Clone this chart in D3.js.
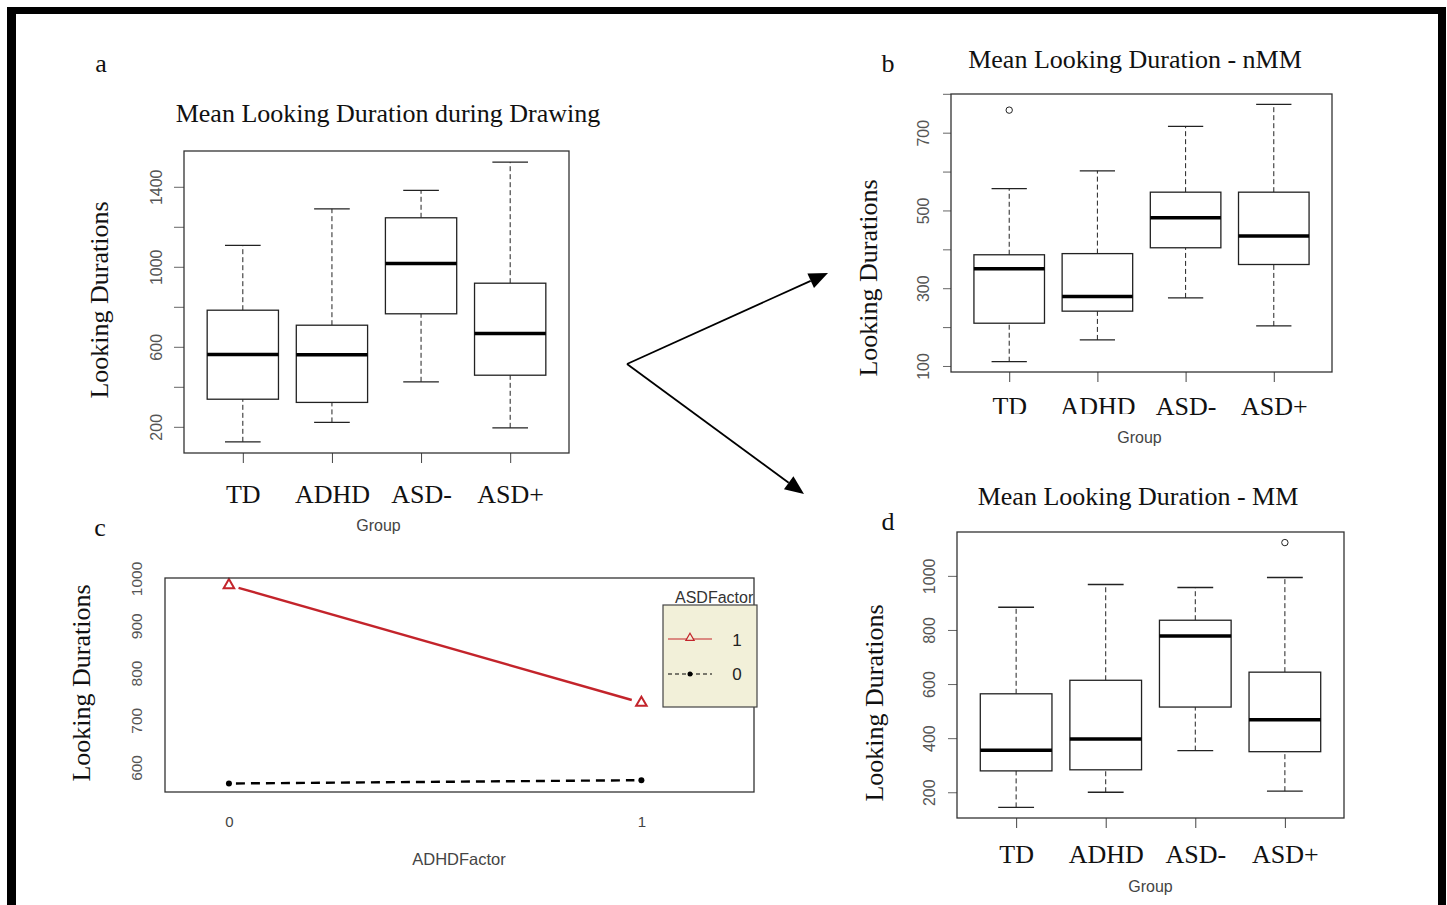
<!DOCTYPE html>
<html>
<head>
<meta charset="utf-8">
<script src="https://cdn.jsdelivr.net/npm/d3@7"></script>
<style>
  body { margin: 0; background: #fff; }
  text { font-family: "Liberation Sans", Arial, sans-serif; }
  .serif { font-family: "Liberation Serif", "Times New Roman", serif; }
</style>
</head>
<body>
<svg id="fig"></svg>
<script>
var groups = ["TD", "ADHD", "ASD-", "ASD+"];

// low whisker, q1, median, q3, high whisker (one row per group)
var drawingStats = [[125, 338, 562, 783, 1107], [222, 322, 560, 708, 1290], [425, 765, 1017, 1245, 1382], [195, 458, 667, 918, 1523]];
var nmmStats = [[111, 210, 350, 386, 556], [167, 241, 279, 389, 602], [275, 404, 481, 547, 716], [203, 361, 434, 547, 773]];
var mmStats = [[144, 279, 355, 564, 884], [200, 283, 397, 614, 968], [354, 515, 778, 836, 957], [204, 350, 468, 644, 994]];
// [group index, value]
var nmmOutliers = [[0, 758]];
var mmOutliers = [[3, 1123]];

var drawingTicks = [200, 400, 600, 800, 1000, 1200, 1400];
var drawingLabels = [200, 600, 1000, 1400];
var nmmTicks = [100, 200, 300, 400, 500, 600, 700, 800];
var nmmLabels = [100, 300, 500, 700];
var mmTicks = [200, 400, 600, 800, 1000];
var mmLabels = [200, 400, 600, 800, 1000];

// interaction plot (panel c)
var adhdLevels = [0, 1];
var asdOneMeans = [986, 737];
var asdZeroMeans = [566, 573];
var cTicks = [600, 700, 800, 900, 1000];

var W = 1447, H = 905;
var svg = d3.select("#fig").attr("width", W).attr("height", H);
svg.append("rect").attr("width", W).attr("height", H).attr("fill", "#fff");

// outer frame
svg.append("rect").attr("x", 7).attr("y", 7).attr("width", 1432).attr("height", 7).attr("fill", "#000");
svg.append("rect").attr("x", 7).attr("y", 7).attr("width", 9).attr("height", H).attr("fill", "#000");
svg.append("rect").attr("x", 1438).attr("y", 7).attr("width", 8).attr("height", H).attr("fill", "#000");

function serifText(x, y, size, txt, rot) {
  var t = svg.append("text").attr("class", "serif")
    .attr("text-anchor", "middle")
    .style("font-size", size + "px")
    .attr("fill", "#111")
    .text(txt);
  if (rot) t.attr("transform", "translate(" + x + "," + y + ")rotate(-90)");
  else t.attr("x", x).attr("y", y);
  return t;
}

function boxPanel(p) {
  var g = svg.append("g");
  var all = d3.merge(p.stats).concat(p.outliers.map(function (o) { return o[1]; }));
  var ext = d3.extent(all), pad = (ext[1] - ext[0]) * 0.04;
  var y = d3.scaleLinear().domain([ext[0] - pad, ext[1] + pad]).range([p.bottom, p.top]);
  var x = d3.scaleLinear().domain([0.34, 4.66]).range([p.left, p.right]);
  var half = (x(1) - x(0)) * 0.4;

  // y axis
  var ya = g.append("g").attr("transform", "translate(" + p.left + ",0)")
    .call(d3.axisLeft(y).tickValues(p.ticks).tickSize(p.tickLen)
      .tickFormat(function (d) { return p.labels.indexOf(d) >= 0 ? d : ""; }));
  ya.select(".domain").remove();
  ya.selectAll("line").attr("stroke", "#666");
  ya.selectAll("text")
    .attr("transform", "rotate(-90)")
    .attr("x", 0).attr("y", -22).attr("dy", 0)
    .attr("text-anchor", "middle")
    .attr("fill", "#555")
    .style("font-size", "16px");

  // x axis
  var xa = g.append("g").attr("transform", "translate(0," + p.bottom + ")")
    .call(d3.axisBottom(x).tickValues([1, 2, 3, 4]).tickSize(10)
      .tickFormat(function (i) { return groups[i - 1]; }));
  xa.select(".domain").remove();
  xa.selectAll("line").attr("stroke", "#444");
  xa.selectAll("text")
    .attr("class", "serif")
    .attr("y", p.labelY - p.bottom).attr("dy", 0)
    .attr("fill", "#111")
    .style("font-size", "26px");
  if (p.clipY) {
    // the first two labels of panel b are cut at the bottom in the source figure
    var cid = "clip" + Math.round(p.left);
    svg.append("clipPath").attr("id", cid).append("rect")
      .attr("x", -200).attr("y", -200).attr("width", 400).attr("height", 200 + p.clipY - p.bottom);
    xa.selectAll("text").filter(function (i) { return i <= 2; })
      .attr("clip-path", "url(#" + cid + ")");
  }

  var boxes = g.selectAll(".bx").data(p.stats).enter().append("g");
  // dashed whiskers
  boxes.append("line")
    .attr("x1", function (d, i) { return x(i + 1); }).attr("x2", function (d, i) { return x(i + 1); })
    .attr("y1", function (d) { return y(d[0]); }).attr("y2", function (d) { return y(d[1]); })
    .attr("stroke", "#222").attr("stroke-dasharray", "5,3");
  boxes.append("line")
    .attr("x1", function (d, i) { return x(i + 1); }).attr("x2", function (d, i) { return x(i + 1); })
    .attr("y1", function (d) { return y(d[3]); }).attr("y2", function (d) { return y(d[4]); })
    .attr("stroke", "#222").attr("stroke-dasharray", "5,3");
  // staples
  [0, 4].forEach(function (k) {
    boxes.append("line")
      .attr("x1", function (d, i) { return x(i + 1) - half / 2; })
      .attr("x2", function (d, i) { return x(i + 1) + half / 2; })
      .attr("y1", function (d) { return y(d[k]); }).attr("y2", function (d) { return y(d[k]); })
      .attr("stroke", "#222").attr("stroke-width", 1.3);
  });
  boxes.append("rect")
    .attr("x", function (d, i) { return x(i + 1) - half; })
    .attr("width", half * 2)
    .attr("y", function (d) { return y(d[3]); })
    .attr("height", function (d) { return y(d[1]) - y(d[3]); })
    .attr("fill", "#fff").attr("stroke", "#222").attr("stroke-width", 1.3);
  boxes.append("line")
    .attr("x1", function (d, i) { return x(i + 1) - half; })
    .attr("x2", function (d, i) { return x(i + 1) + half; })
    .attr("y1", function (d) { return y(d[2]); }).attr("y2", function (d) { return y(d[2]); })
    .attr("stroke", "#000").attr("stroke-width", 3.5);

  g.selectAll(".out").data(p.outliers).enter().append("circle")
    .attr("cx", function (d) { return x(d[0] + 1); })
    .attr("cy", function (d) { return y(d[1]); })
    .attr("r", 3.2).attr("fill", "none").attr("stroke", "#222");

  g.append("rect")
    .attr("x", p.left).attr("y", p.top)
    .attr("width", p.right - p.left).attr("height", p.bottom - p.top)
    .attr("fill", "none").attr("stroke", "#333").attr("stroke-width", 1.3);

  serifText(p.titleX, p.titleY, 26, p.title);
  serifText(p.ylabX, p.ylabY, 26, "Looking Durations", true);
  svg.append("text").attr("x", (p.left + p.right) / 2 + p.groupDx).attr("y", p.groupY)
    .attr("text-anchor", "middle").attr("fill", "#444")
    .style("font-size", "16px").text("Group");
}

// panel a
boxPanel({
  stats: drawingStats, outliers: [], ticks: drawingTicks, labels: drawingLabels, tickLen: 10,
  left: 184, right: 569, top: 151, bottom: 453, labelY: 503,
  title: "Mean Looking Duration during Drawing", titleX: 388, titleY: 122,
  ylabX: 108, ylabY: 300, groupY: 531, groupDx: 2
});
// panel b
boxPanel({
  stats: nmmStats, outliers: nmmOutliers, ticks: nmmTicks, labels: nmmLabels, tickLen: 8,
  left: 951, right: 1332, top: 94, bottom: 372, labelY: 415, clipY: 414,
  title: "Mean Looking Duration - nMM", titleX: 1135, titleY: 68,
  ylabX: 877, ylabY: 278, groupY: 443, groupDx: -2
});
// panel d
boxPanel({
  stats: mmStats, outliers: mmOutliers, ticks: mmTicks, labels: mmLabels, tickLen: 9,
  left: 957, right: 1344, top: 532, bottom: 818, labelY: 863,
  title: "Mean Looking Duration - MM", titleX: 1138, titleY: 505,
  ylabX: 883, ylabY: 703, groupY: 892, groupDx: 0
});

// panel letters
serifText(101, 72, 26, "a");
serifText(888, 72, 26, "b");
serifText(100, 536, 26, "c");
serifText(888, 530, 26, "d");

// arrows
function arrow(x0, y0, x1, y1) {
  var a = Math.atan2(y1 - y0, x1 - x0), L = 19, w = 8;
  var bx = x1 - L * Math.cos(a), by = y1 - L * Math.sin(a);
  svg.append("line").attr("x1", x0).attr("y1", y0).attr("x2", bx).attr("y2", by)
    .attr("stroke", "#000").attr("stroke-width", 1.8);
  svg.append("path")
    .attr("d", "M" + x1 + "," + y1 +
      "L" + (bx + w * Math.sin(a)) + "," + (by - w * Math.cos(a)) +
      "L" + (bx - w * Math.sin(a)) + "," + (by + w * Math.cos(a)) + "Z")
    .attr("fill", "#000");
}
arrow(627, 364, 828, 273);
arrow(627, 364, 804, 494);

// panel c: interaction plot
var cl = 165, cr = 754, ct = 578, cb = 792;
var cx = d3.scaleLinear().domain([-0.155, 1.273]).range([cl, cr]);
var cy = d3.scaleLinear().domain([548, 1001]).range([cb, ct]);
var red = "#c3242b";
var gc = svg.append("g");

var cya = gc.append("g").attr("transform", "translate(" + cl + ",0)")
  .call(d3.axisLeft(cy).tickValues(cTicks).tickSize(0).tickFormat(d3.format("d")));
cya.select(".domain").remove();
cya.selectAll("text")
  .attr("transform", "rotate(-90)")
  .attr("x", 0).attr("y", -23).attr("dy", 0)
  .attr("text-anchor", "middle").attr("fill", "#555").style("font-size", "15.5px");

var cxa = gc.append("g").attr("transform", "translate(0," + cb + ")")
  .call(d3.axisBottom(cx).tickValues(adhdLevels).tickSize(0).tickFormat(d3.format("d")));
cxa.select(".domain").remove();
cxa.selectAll("text").attr("y", 35).attr("dy", 0).attr("fill", "#444").style("font-size", "15px");

function gapLine(xs, ys, gap) {
  var x0 = cx(xs[0]), y0 = cy(ys[0]), x1 = cx(xs[1]), y1 = cy(ys[1]);
  var len = Math.hypot(x1 - x0, y1 - y0), ux = (x1 - x0) / len, uy = (y1 - y0) / len;
  return [x0 + ux * gap, y0 + uy * gap, x1 - ux * gap, y1 - uy * gap];
}
var rl = gapLine(adhdLevels, asdOneMeans, 10);
gc.append("line").attr("x1", rl[0]).attr("y1", rl[1]).attr("x2", rl[2]).attr("y2", rl[3])
  .attr("stroke", red).attr("stroke-width", 2.4);
var bl = gapLine(adhdLevels, asdZeroMeans, 7);
gc.append("line").attr("x1", bl[0]).attr("y1", bl[1]).attr("x2", bl[2]).attr("y2", bl[3])
  .attr("stroke", "#000").attr("stroke-width", 2.4).attr("stroke-dasharray", "9,6");

var tri = d3.symbol().type(d3.symbolTriangle).size(48);
gc.selectAll(".tri").data(asdOneMeans).enter().append("path")
  .attr("d", tri)
  .attr("transform", function (d, i) { return "translate(" + cx(adhdLevels[i]) + "," + cy(d) + ")"; })
  .attr("fill", "none").attr("stroke", red).attr("stroke-width", 2);
gc.selectAll(".dot").data(asdZeroMeans).enter().append("circle")
  .attr("cx", function (d, i) { return cx(adhdLevels[i]); })
  .attr("cy", function (d) { return cy(d); })
  .attr("r", 3).attr("fill", "#000");

gc.append("rect").attr("x", cl).attr("y", ct).attr("width", cr - cl).attr("height", cb - ct)
  .attr("fill", "none").attr("stroke", "#333").attr("stroke-width", 1.3);

// legend
var lg = gc.append("g");
lg.append("rect").attr("x", 663).attr("y", 605).attr("width", 94).attr("height", 102)
  .attr("fill", "#f2f0d9").attr("stroke", "#444").attr("stroke-width", 1.2);
lg.append("text").attr("x", 675).attr("y", 603).attr("fill", "#333")
  .style("font-size", "16px").text("ASDFactor");
lg.append("line").attr("x1", 668).attr("x2", 712).attr("y1", 639).attr("y2", 639)
  .attr("stroke", red).attr("stroke-width", 1.2);
lg.append("path").attr("d", d3.symbol().type(d3.symbolTriangle).size(30))
  .attr("transform", "translate(690,638)")
  .attr("fill", "#f2f0d9").attr("stroke", red).attr("stroke-width", 1.2);
lg.append("line").attr("x1", 668).attr("x2", 712).attr("y1", 674).attr("y2", 674)
  .attr("stroke", "#000").attr("stroke-width", 1).attr("stroke-dasharray", "4,3");
lg.append("circle").attr("cx", 690).attr("cy", 674).attr("r", 2.5).attr("fill", "#000");
lg.append("text").attr("x", 737).attr("y", 646).attr("text-anchor", "middle").attr("fill", "#222")
  .style("font-size", "17px").text("1");
lg.append("text").attr("x", 737).attr("y", 680).attr("text-anchor", "middle").attr("fill", "#222")
  .style("font-size", "17px").text("0");

serifText(90, 683, 26, "Looking Durations", true);
svg.append("text").attr("x", 459).attr("y", 865).attr("text-anchor", "middle")
  .attr("fill", "#444").style("font-size", "16.5px").text("ADHDFactor");
</script>
</body>
</html>
